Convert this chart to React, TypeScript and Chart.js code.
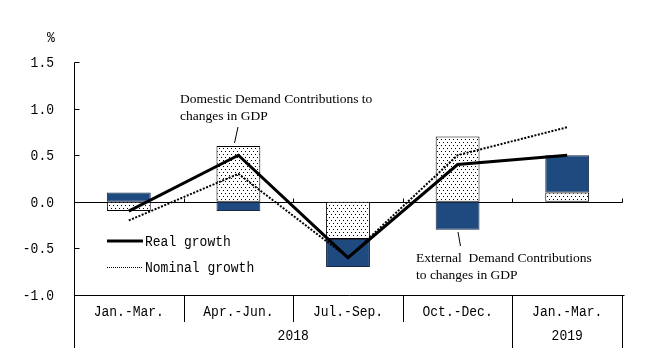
import React, { useEffect, useRef } from "react";
import { Chart, registerables } from "chart.js";

Chart.register(...registerables);

// ---- data ----
const quarters = ["Jan.-Mar.", "Apr.-Jun.", "Jul.-Sep.", "Oct.-Dec.", "Jan.-Mar."];
const years = [
  { label: "2018", from: 0, to: 3 },
  { label: "2019", from: 4, to: 4 },
];
const domesticDemand = [-0.1, 0.6, -0.4, 0.7, 0.1];
const externalDemand = [0.1, -0.1, -0.3, -0.3, 0.4];
const realGrowth = [-0.1, 0.5, -0.6, 0.4, 0.5];
const nominalGrowth = [-0.2, 0.3, -0.6, 0.5, 0.8];
const yTicks = [1.5, 1.0, 0.5, 0.0, -0.5, -1.0];
const yTickLabels = ["1.5", "1.0", "0.5", "0.0", "-0.5", "-1.0"];
const legendLabels = ["Real growth", "Nominal growth"];
const domesticNote = ["Domestic Demand Contributions to", "changes in GDP"];
const externalNote = ["External  Demand Contributions", "to changes in GDP"];

const MONO = "13px 'Liberation Mono', 'DejaVu Sans Mono', monospace";
const SERIF = "13.5px 'Liberation Serif', 'DejaVu Serif', serif";
const BLUE = "#1f4a80";

function makeDots(): CanvasPattern | string {
  const c = document.createElement("canvas");
  c.width = 4;
  c.height = 6;
  const g = c.getContext("2d");
  if (!g) return "#fff";
  g.fillStyle = "#ffffff";
  g.fillRect(0, 0, 4, 6);
  g.fillStyle = "#000000";
  g.fillRect(1, 1, 1, 1);
  g.fillRect(3, 4, 1, 1);
  return g.createPattern(c, "repeat") || "#fff";
}

// draw mono text slightly stretched vertically (tall half-width glyphs)
function tallText(ctx: CanvasRenderingContext2D, text: string, x: number, y: number) {
  ctx.save();
  ctx.translate(x, y);
  ctx.scale(1, 1.18);
  ctx.fillText(text, 0, 0);
  ctx.restore();
}

const overlay = {
  id: "overlay",
  beforeDatasetsDraw(chart: any) {
    const { ctx, chartArea: a, scales } = chart;
    const x = scales.x;
    const y = scales.y;
    const n = quarters.length;
    const w = (a.right - a.left) / n;
    const crisp = (v: number) => Math.round(v) + 0.5;
    const y0 = crisp(y.getPixelForValue(0));
    const yb = crisp(y.getPixelForValue(-1));
    const yt = crisp(y.getPixelForValue(1.5));
    const xl = crisp(a.left);
    const xr = crisp(a.right);
    ctx.save();
    ctx.strokeStyle = "#000";
    ctx.lineWidth = 1;
    ctx.beginPath();
    ctx.moveTo(xl, yt);
    ctx.lineTo(xl, 348);
    yTicks.forEach((v) => {
      const py = crisp(y.getPixelForValue(v));
      ctx.moveTo(xl, py);
      ctx.lineTo(xl + 5, py);
    });
    ctx.moveTo(xl, y0);
    ctx.lineTo(xr, y0);
    ctx.moveTo(xl, yb);
    ctx.lineTo(xr + 2, yb);
    for (let i = 1; i <= n; i++) {
      const px = crisp(x.getPixelForValue(i - 1) + w / 2);
      ctx.moveTo(px, y0);
      ctx.lineTo(px, y0 - 4);
      const yearEdge = years.some((yr) => yr.to === i - 1);
      ctx.moveTo(px, yb);
      ctx.lineTo(px, yearEdge ? 348 : 322);
    }
    ctx.stroke();
    ctx.restore();
  },
  afterDraw(chart: any) {
    const { ctx, chartArea: a, scales } = chart;
    const x = scales.x;
    const y = scales.y;
    const n = quarters.length;
    const w = (a.right - a.left) / n;
    ctx.save();
    ctx.fillStyle = "#000";
    ctx.strokeStyle = "#000";
    // y tick labels
    ctx.font = MONO;
    ctx.textAlign = "right";
    ctx.textBaseline = "middle";
    yTicks.forEach((v, i) => {
      tallText(ctx, yTickLabels[i], 54, y.getPixelForValue(v) + 1);
    });
    ctx.textAlign = "center";
    tallText(ctx, "%", 51, 38);
    // category labels
    quarters.forEach((q, i) => {
      tallText(ctx, q, x.getPixelForValue(i), 312);
    });
    years.forEach((yr) => {
      const l = x.getPixelForValue(yr.from) - w / 2;
      const r = x.getPixelForValue(yr.to) + w / 2;
      tallText(ctx, yr.label, (l + r) / 2, 336);
    });
    // legend
    ctx.textAlign = "left";
    ctx.beginPath();
    ctx.lineWidth = 3;
    ctx.moveTo(107, 241);
    ctx.lineTo(143, 241);
    ctx.stroke();
    ctx.beginPath();
    ctx.lineWidth = 1;
    ctx.setLineDash([1, 1]);
    ctx.moveTo(107, 267.5);
    ctx.lineTo(143, 267.5);
    ctx.stroke();
    ctx.setLineDash([]);
    tallText(ctx, legendLabels[0], 145, 242);
    tallText(ctx, legendLabels[1], 145, 268);
    // annotations
    ctx.font = SERIF;
    ctx.textBaseline = "alphabetic";
    ctx.fillText(domesticNote[0], 180, 103);
    ctx.fillText(domesticNote[1], 180, 120);
    ctx.fillText(externalNote[0], 416, 262);
    ctx.fillText(externalNote[1], 416, 279);
    ctx.lineWidth = 1;
    ctx.beginPath();
    ctx.moveTo(238, 127);
    ctx.lineTo(234.5, 143);
    ctx.moveTo(458, 232);
    ctx.lineTo(460.5, 246);
    ctx.stroke();
    ctx.restore();
  },
};

export default function App() {
  const ref = useRef<HTMLCanvasElement | null>(null);
  useEffect(() => {
    if (!ref.current) return;
    const dots = makeDots();
    const chart = new Chart(ref.current, {
      type: "bar",
      data: {
        labels: quarters,
        datasets: [
          {
            type: "line",
            label: legendLabels[0],
            data: realGrowth,
            borderColor: "#000",
            borderWidth: 3,
            pointRadius: 0,
            tension: 0,
            borderJoinStyle: "miter",
            stack: "real",
            order: 0,
          } as any,
          {
            type: "line",
            label: legendLabels[1],
            data: nominalGrowth,
            borderColor: "#000",
            borderWidth: 2,
            borderDash: [2, 1.5],
            pointRadius: 0,
            tension: 0,
            stack: "nominal",
            order: 0,
          } as any,
          {
            type: "bar",
            label: "Domestic Demand",
            data: domesticDemand,
            backgroundColor: dots as any,
            borderColor: "#000",
            borderWidth: 1,
            borderSkipped: false,
            stack: "bars",
            order: 1,
            barPercentage: 0.4,
            categoryPercentage: 1,
          } as any,
          {
            type: "bar",
            label: "External Demand",
            data: externalDemand,
            backgroundColor: BLUE,
            borderColor: "#1a2a44",
            borderWidth: 1,
            borderSkipped: false,
            stack: "bars",
            order: 2,
            barPercentage: 0.4,
            categoryPercentage: 1,
          } as any,
        ],
      },
      options: {
        responsive: false,
        animation: false,
        devicePixelRatio: 1,
        layout: { padding: { left: 74, right: 26, top: 62, bottom: 67 } },
        scales: {
          x: { display: false, stacked: true, offset: true },
          y: { display: false, stacked: true, min: -1, max: 1.5 },
        },
        plugins: {
          legend: { display: false },
          tooltip: { enabled: false },
        },
      },
      plugins: [overlay],
    });
    return () => chart.destroy();
  }, []);
  return (
    <div style={{ position: "fixed", left: 0, top: 0, width: 648, height: 362, background: "#fff" }}>
      <canvas ref={ref} width={648} height={362} />
    </div>
  );
}
